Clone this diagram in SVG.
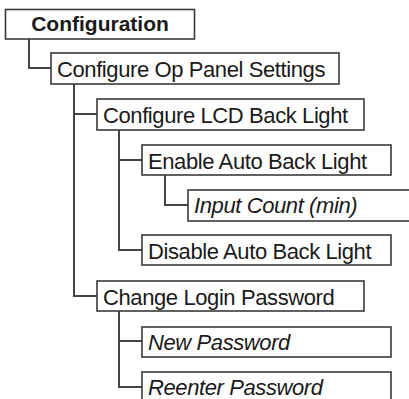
<svg xmlns="http://www.w3.org/2000/svg" width="409" height="399" viewBox="0 0 409 399">
<style>
.box{fill:#fff;stroke:#3a3a3a;stroke-width:1.6}
.lbl{font-family:"Liberation Sans",Arial,sans-serif;font-size:22px;letter-spacing:-0.4px;fill:#1a1a1a}
.it{font-style:italic}
.b{font-weight:bold;text-anchor:middle;font-size:21px;letter-spacing:0}
.con{fill:none;stroke:#444;stroke-width:2}
</style>
<rect width="409" height="399" fill="#fff"/>
<g id="connectors">
<path class="con" d="M29,39 V68 H51"/>
<path class="con" d="M74,84 V296 H97 M74,114 H97"/>
<path class="con" d="M119,130 V250 H142 M119,160 H142"/>
<path class="con" d="M165,175 V205 H188"/>
<path class="con" d="M119,311 V387 H142 M119,341 H142"/>
</g>
<g id="n1"><rect class="box" x="5.5" y="9.5" width="189" height="29.5"/><text class="lbl b" x="100" y="31">Configuration</text></g>
<g id="n2"><rect class="box" x="51" y="53" width="288" height="31"/><text class="lbl" x="57" y="77">Configure Op Panel Settings</text></g>
<g id="n3"><rect class="box" x="97" y="99" width="267" height="31"/><text class="lbl" x="103" y="123">Configure LCD Back Light</text></g>
<g id="n4"><rect class="box" x="142" y="145" width="249" height="30"/><text class="lbl" x="148" y="168.5">Enable Auto Back Light</text></g>
<g id="n5"><rect class="box" x="188" y="190" width="240" height="31"/><text class="lbl it" x="194" y="213">Input Count (min)</text></g>
<g id="n6"><rect class="box" x="142" y="235" width="249" height="30"/><text class="lbl" x="148" y="258.5">Disable Auto Back Light</text></g>
<g id="n7"><rect class="box" x="97" y="281" width="267" height="30"/><text class="lbl" x="103" y="304.5">Change Login Password</text></g>
<g id="n8"><rect class="box" x="142" y="327" width="249" height="30"/><text class="lbl it" x="148" y="350">New Password</text></g>
<g id="n9"><rect class="box" x="142" y="372" width="249" height="40"/><text class="lbl it" x="148" y="395">Reenter Password</text></g>
</svg>
